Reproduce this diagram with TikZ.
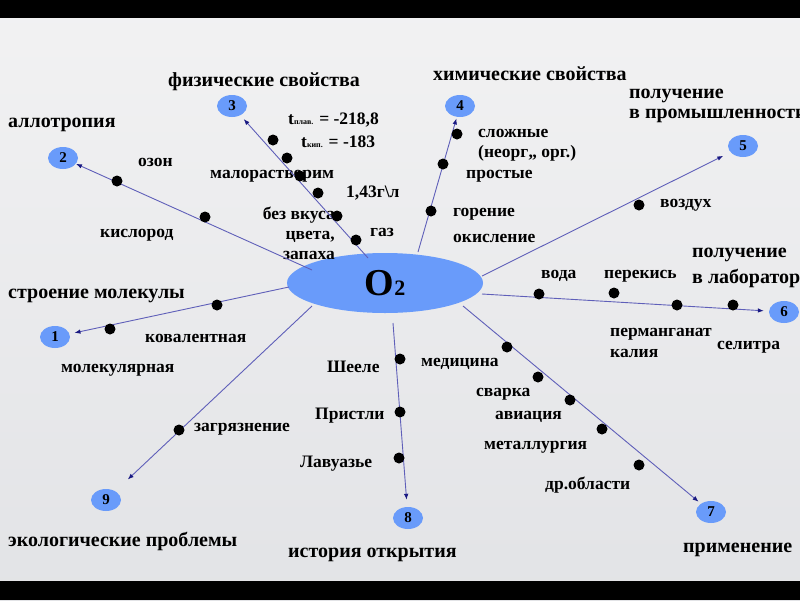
\documentclass[tikz,border=0pt]{standalone}
\usepackage{fontspec}
\setmainfont{Liberation Serif}
\usetikzlibrary{arrows.meta, shapes.geometric}
\definecolor{slidetop}{RGB}{242,242,243}
\definecolor{slidebot}{RGB}{226,227,230}
\definecolor{oxyblue}{RGB}{105,155,250}
\definecolor{linkblue}{RGB}{95,95,185}
\definecolor{tipblue}{RGB}{25,25,130}
\newcommand{\tsub}[1]{{\fontsize{8}{8}\selectfont #1}}

\begin{document}
\begin{tikzpicture}[x=1pt, y=-1pt,
  every node/.style = {font=\bfseries\fontsize{17.5}{20}\selectfont, inner sep=0pt},
  head/.style = {font=\bfseries\fontsize{20}{24}\selectfont, anchor=base west, align=left},
  lbl/.style = {anchor=base west, align=left},
  num/.style = {ellipse, fill=oxyblue, minimum width=30pt, minimum height=22pt, font=\bfseries\fontsize{15}{15}\selectfont},
  core/.style = {ellipse, fill=oxyblue, minimum width=196pt, minimum height=60pt, font=\bfseries\fontsize{38}{38}\selectfont},
  bead/.style = {circle, fill=black, minimum size=11pt},
  link/.style = {linkblue, line width=0.9pt, -{Latex[length=6pt,width=4.5pt,color=tipblue]}},
]
  \clip (0,0) rectangle (800,600);
  \shade[top color=slidetop, bottom color=slidebot] (0,0) rectangle (800,600);
  \fill[black] (0,0) rectangle (800,18);
  \fill[black] (0,581) rectangle (800,600);

  % centre
  \node[core] (o2) at (385,283) {O{\fontsize{22}{22}\selectfont 2}};

  % headings (base = last line)
  \node[head] (hallo) at (8,127) {аллотропия};
  \node[head] (hphys) at (168,86) {физические свойства};
  \node[head] (hchem) at (433,80) {химические свойства};
  \node[head] (hind) at (629,118) {получение\\[-4pt]в промышленности};
  \node[head] (hlab) at (692,283) {получение\\[1.5pt]в лаборатории};
  \node[head] (hmol) at (8,298) {строение молекулы};
  \node[head] (heco) at (8,546) {экологические проблемы};
  \node[head] (hhist) at (288,557) {история открытия};
  \node[head] (huse) at (683,552) {применение};

  % labels
  \node[lbl] (lozon) at (138,166) {озон};
  \node[lbl] (lkisl) at (100,237) {кислород};
  \node[lbl] (lmelt) at (288,124) {t\tsub{плав.} = -218,8};
  \node[lbl] (lboil) at (301,147) {t\tsub{кип.} = -183};
  \node[lbl] (lsol) at (210,178) {малорастворим};
  \node[lbl] (ldens) at (346,197) {1,43г\textbackslash л};
  \node[lbl, anchor=base east, align=right] (ltaste) at (335,259.5) {без вкуса\\цвета,\\запаха};
  \node[lbl] (lgas) at (370,236) {газ};
  \node[lbl] (lcomp) at (478,157) {сложные\\(неорг,, орг.)};
  \node[lbl] (lsimp) at (466,178) {простые};
  \node[lbl] (lburn) at (453,216) {горение};
  \node[lbl] (loxid) at (453,242) {окисление};
  \node[lbl] (lair) at (660,207) {воздух};
  \node[lbl] (lwat) at (541,278) {вода};
  \node[lbl] (lper) at (604,278) {перекись};
  \node[lbl] (lkmno) at (610,357) {перманганат\\[1pt]калия};
  \node[lbl] (lsalt) at (717,349) {селитра};
  \node[lbl] (lcov) at (145,342) {ковалентная};
  \node[lbl] (lmolec) at (61,372) {молекулярная};
  \node[lbl] (lpoll) at (194,431) {загрязнение};
  \node[lbl] (lsch) at (327,372) {Шееле};
  \node[lbl] (lpri) at (315,419) {Пристли};
  \node[lbl] (llav) at (300,467) {Лавуазье};
  \node[lbl] (lmed) at (421,366) {медицина};
  \node[lbl] (lweld) at (476,396) {сварка};
  \node[lbl] (lavia) at (495,419) {авиация};
  \node[lbl] (lmet) at (484,449) {металлургия};
  \node[lbl] (lother) at (545,489) {др.области};

  % numbered topics
  \node[num] (n1) at (55,337) {1};
  \node[num] (n2) at (63,158) {2};
  \node[num] (n3) at (232,106) {3};
  \node[num] (n4) at (460,106) {4};
  \node[num] (n5) at (743,146) {5};
  \node[num] (n6) at (784,312) {6};
  \node[num] (n7) at (711,512) {7};
  \node[num] (n8) at (408,518) {8};
  \node[num] (n9) at (106,500) {9};

  % spokes
  \coordinate (s1) at (289,287);
  \coordinate (s2) at (312,270);
  \coordinate (s3) at (368,258);
  \coordinate (s4) at (418,252);
  \coordinate (s5) at (482,276);
  \coordinate (s6) at (482,294);
  \coordinate (s7) at (463,306);
  \coordinate (s8) at (393,323);
  \coordinate (s9) at (312,306);
  \draw[link, shorten >=5pt] (s1) -- (n1);
  \draw[link] (s2) -- (n2);
  \draw[link, shorten >=5pt] (s3) -- (n3);
  \draw[link, shorten >=1.5pt] (s4) -- (n4);
  \draw[link, shorten >=8pt] (s5) -- (n5);
  \draw[link, shorten >=5pt] (s6) -- (n6);
  \draw[link, shorten >=3pt] (s7) -- (n7);
  \draw[link, shorten >=7pt] (s8) -- (n8);
  \draw[link, shorten >=17pt] (s9) -- (n9);

  % beads
  \node[bead] (b11) at (110,329) {};
  \node[bead] (b12) at (217,305) {};
  \node[bead] (b21) at (117,181) {};
  \node[bead] (b22) at (205,217) {};
  \node[bead] (b31) at (273,140) {};
  \node[bead] (b32) at (287,158) {};
  \node[bead] (b33) at (300,176) {};
  \node[bead] (b34) at (318,193) {};
  \node[bead] (b35) at (337,216) {};
  \node[bead] (b36) at (356,240) {};
  \node[bead] (b41) at (457,134) {};
  \node[bead] (b42) at (443,164) {};
  \node[bead] (b43) at (431,211) {};
  \node[bead] (b51) at (639,205) {};
  \node[bead] (b61) at (539,294) {};
  \node[bead] (b62) at (614,293) {};
  \node[bead] (b63) at (677,305) {};
  \node[bead] (b64) at (733,305) {};
  \node[bead] (b71) at (507,347) {};
  \node[bead] (b72) at (538,377) {};
  \node[bead] (b73) at (570,400) {};
  \node[bead] (b74) at (602,429) {};
  \node[bead] (b75) at (639,465) {};
  \node[bead] (b81) at (400,359) {};
  \node[bead] (b82) at (400,412) {};
  \node[bead] (b83) at (399,458) {};
  \node[bead] (b91) at (179,430) {};
\end{tikzpicture}
\end{document}
